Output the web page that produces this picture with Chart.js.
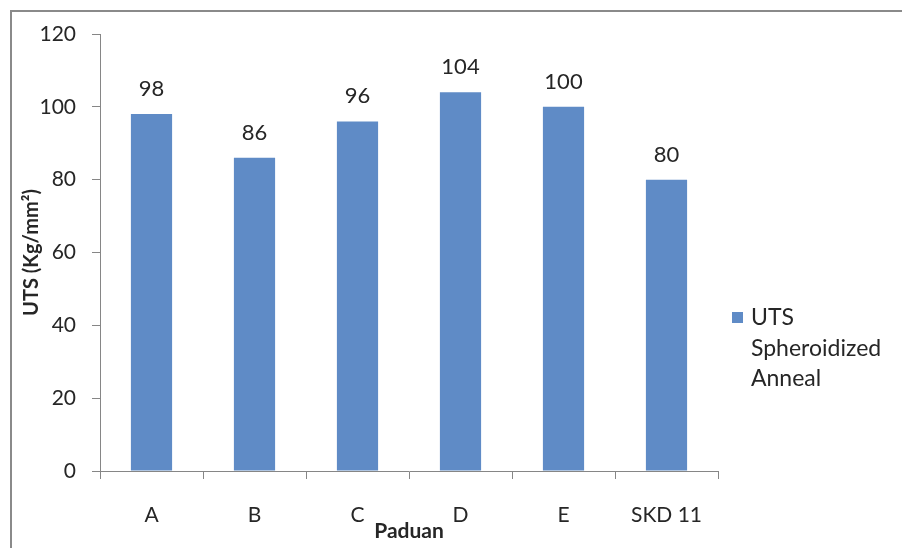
<!DOCTYPE html>
<html>
<head>
<meta charset="utf-8">
<script src="https://cdn.jsdelivr.net/npm/chart.js@4.4.0/dist/chart.umd.min.js"></script>
<style>
    html, body { margin: 0; padding: 0; background: #fff; overflow: hidden; }
    #wrap { position: relative; width: 902px; height: 548px; }
    #frame {
        position: absolute; left: 10px; top: 10px;
        width: 1000px; height: 1000px;
        border: 2px solid #8a8a8a;
    }
    canvas { position: absolute; left: 0; top: 0; }
</style>
</head>
<body>
<div id="wrap">
    <div id="frame"></div>
    <canvas id="chart" width="902" height="548"></canvas>
</div>
<script>
// Paduan alloys vs UTS after spheroidized anneal
const categories = ['A', 'B', 'C', 'D', 'E', 'SKD 11'];
const utsValues = [98, 86, 96, 104, 100, 80];
const seriesLabel = ['UTS', 'Spheroidized', 'Anneal'];
const yTicks = [0, 20, 40, 60, 80, 100, 120];

const barColor = '#5f8bc6';
const inkColor = '#262626';
const axisColor = '#868686';
const fontFamily = "Lato, 'Open Sans', sans-serif";

Chart.defaults.font.family = fontFamily;
Chart.defaults.font.size = 21;
Chart.defaults.color = inkColor;

// value labels above each bar
const valueLabels = {
    id: 'valueLabels',
    afterDatasetsDraw(chart) {
        const ctx = chart.ctx;
        const meta = chart.getDatasetMeta(0);
        ctx.save();
        ctx.font = '22px ' + fontFamily;
        ctx.fillStyle = inkColor;
        ctx.textAlign = 'center';
        ctx.textBaseline = 'middle';
        meta.data.forEach((bar, i) => {
            ctx.fillText(String(utsValues[i]), bar.x, bar.y - 25);
        });
        ctx.restore();
    }
};

// legend on the right, wrapped over three lines
const sideLegend = {
    id: 'sideLegend',
    afterDraw(chart) {
        const ctx = chart.ctx;
        const x = chart.chartArea.right + 14;
        const y = 318;
        ctx.save();
        ctx.fillStyle = barColor;
        ctx.fillRect(x, y - 6, 11, 11);
        ctx.font = '23px ' + fontFamily;
        ctx.fillStyle = inkColor;
        ctx.textAlign = 'left';
        ctx.textBaseline = 'middle';
        seriesLabel.forEach((line, i) => {
            ctx.fillText(line, x + 19, y + i * 30.5);
        });
        ctx.restore();
    }
};

new Chart(document.getElementById('chart'), {
    type: 'bar',
    data: {
        labels: categories,
        datasets: [{
            label: seriesLabel.join(' '),
            data: utsValues,
            backgroundColor: barColor,
            borderWidth: 0,
            categoryPercentage: 1,
            barPercentage: 0.4
        }]
    },
    options: {
        responsive: false,
        animation: false,
        devicePixelRatio: 1,
        layout: { padding: { left: 0, right: 184, top: 34, bottom: 0 } },
        plugins: {
            legend: { display: false },
            tooltip: { enabled: false }
        },
        scales: {
            x: {
                grid: { drawOnChartArea: false, drawTicks: true, tickLength: 8, color: axisColor },
                border: { display: true, color: axisColor },
                ticks: { padding: 24, maxRotation: 0, color: inkColor },
                title: {
                    display: true,
                    text: 'Paduan',
                    font: { size: 21, weight: 'bold' },
                    color: inkColor,
                    padding: { top: 0, bottom: 4 }
                },
                afterFit(scale) { scale.height = 77; }
            },
            y: {
                min: 0,
                max: 120,
                grid: { drawOnChartArea: false, drawTicks: true, tickLength: 8, color: axisColor },
                border: { display: true, color: axisColor },
                ticks: { stepSize: 20, padding: 16, color: inkColor },
                afterBuildTicks(scale) { scale.ticks = yTicks.map(v => ({ value: v })); },
                title: {
                    display: true,
                    text: 'UTS (Kg/mm²)',
                    font: { size: 20, weight: 'bold' },
                    color: inkColor,
                    padding: { top: 20, bottom: 0 }
                },
                afterFit(scale) { scale.width = 100; }
            }
        }
    },
    plugins: [valueLabels, sideLegend]
});
</script>
</body>
</html>
